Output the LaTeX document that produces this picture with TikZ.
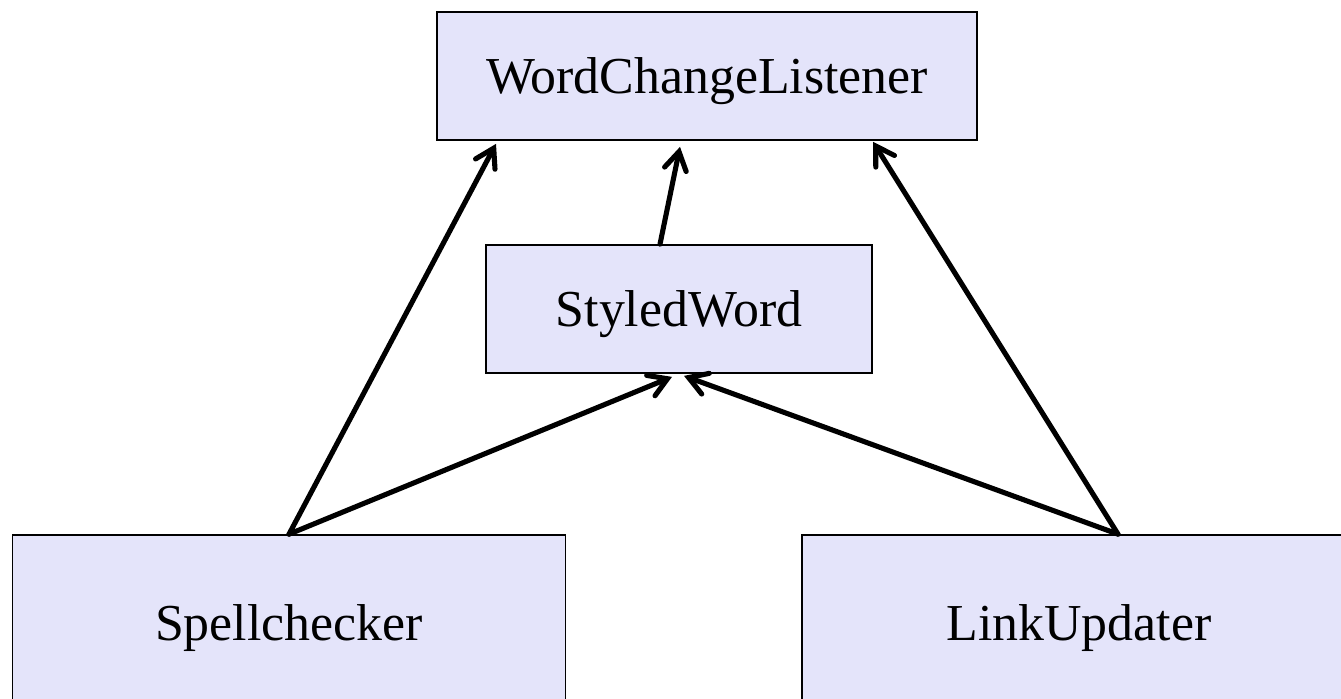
\documentclass[tikz,border=0pt]{standalone}
\usepackage{fontspec}
\setmainfont{Liberation Serif}
\usetikzlibrary{arrows.meta,calc}
\definecolor{boxfill}{RGB}{228,228,250}

\begin{document}
\begin{tikzpicture}[x=0.02cm,y=-0.02cm,
    box/.style={draw,fill=boxfill,line width=1pt,inner sep=0pt,text depth=0pt,font=\fontsize{29.5}{35}\selectfont},
    arr/.style={line width=2.9pt,line cap=round,line join=round,-{Straight Barb[length=0.36cm,width=0.44cm,line cap=round]}}]
    \useasboundingbox (0,0) rectangle (1341,698);

    \node[box,minimum width=10.8cm,minimum height=2.56cm] (wcl) at (707,76) {WordChangeListener};
    \node[box,minimum width=7.72cm,minimum height=2.56cm] (sw) at (679,309) {StyledWord};
    \node[box,minimum width=11.06cm,minimum height=3.48cm] (spell) at (289,622) {Spellchecker};
    \node[box,minimum width=11.08cm,minimum height=3.48cm] (link) at (1079,622) {LinkUpdater};

    \coordinate (linktop) at ($(link.north)+(39,0)$);

    \draw[arr] (spell.north) -- ($(wcl.south)+(-211,3)$);
    \draw[arr] (spell.north) -- ($(sw.south)+(-7,3)$);
    \draw[arr] ($(sw.north)+(-19,0)$) -- ($(wcl.south)+(-27,6)$);
    \draw[arr] (linktop) -- ($(wcl.south)+(166,1)$);
    \draw[arr] (linktop) -- ($(sw.south)+(5,2)$);
  \end{tikzpicture}
\end{document}
